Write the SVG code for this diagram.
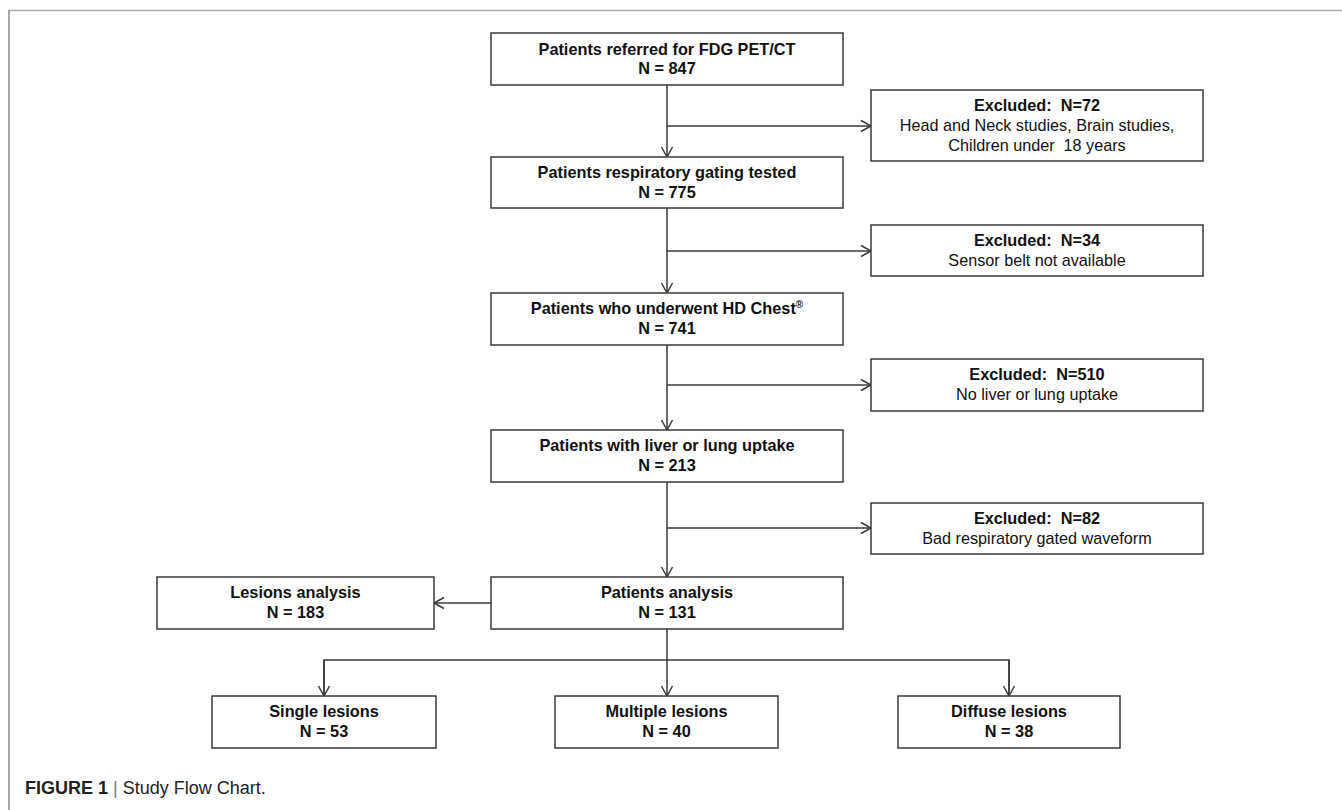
<svg xmlns="http://www.w3.org/2000/svg" width="1342" height="810" viewBox="0 0 1342 810">
<defs>
<style>
.box{fill:#fff;stroke:#3a3a3a;stroke-width:1.5}
.b{font-family:"Liberation Sans",Arial,sans-serif;font-size:16.3px;font-weight:bold;fill:#111;text-anchor:middle}
.r{font-family:"Liberation Sans",Arial,sans-serif;font-size:16.2px;fill:#111;text-anchor:middle}
.ln{fill:none;stroke:#3a3a3a;stroke-width:1.5}
.cap{font-family:"Liberation Sans",Arial,sans-serif;font-size:18px;fill:#222}
</style>
<marker id="arr" markerUnits="userSpaceOnUse" markerWidth="14" markerHeight="14" viewBox="0 0 14 14" refX="12" refY="7" orient="auto">
<path d="M2,1.5 L12,7 L2,12.5" fill="none" stroke="#3a3a3a" stroke-width="1.5"/>
</marker>
</defs>
<rect width="1342" height="810" fill="#fff"/>
<g id="frame">
<line x1="9" y1="10.5" x2="1342" y2="10.5" stroke="#aaa" stroke-width="1.5"/>
<line x1="9" y1="10" x2="9" y2="810" stroke="#888" stroke-width="1.5"/>
</g>
<g id="connectors">
<line class="ln" x1="667" y1="85" x2="667" y2="157" marker-end="url(#arr)"/>
<line class="ln" x1="667" y1="126" x2="871" y2="126" marker-end="url(#arr)"/>
<line class="ln" x1="667" y1="208" x2="667" y2="293" marker-end="url(#arr)"/>
<line class="ln" x1="667" y1="251" x2="871" y2="251" marker-end="url(#arr)"/>
<line class="ln" x1="667" y1="345" x2="667" y2="430" marker-end="url(#arr)"/>
<line class="ln" x1="667" y1="385" x2="871" y2="385" marker-end="url(#arr)"/>
<line class="ln" x1="667" y1="482" x2="667" y2="577" marker-end="url(#arr)"/>
<line class="ln" x1="667" y1="528" x2="871" y2="528" marker-end="url(#arr)"/>
<line class="ln" x1="491" y1="603" x2="434" y2="603" marker-end="url(#arr)"/>
<line class="ln" x1="667" y1="629" x2="667" y2="696" marker-end="url(#arr)"/>
<polyline class="ln" points="324,696 324,660 1009,660 1009,696"/>
<line class="ln" x1="324" y1="660" x2="324" y2="696" marker-end="url(#arr)"/>
<line class="ln" x1="1009" y1="660" x2="1009" y2="696" marker-end="url(#arr)"/>
</g>
<g id="n1">
<rect class="box" x="491" y="33" width="352" height="52"/>
<text class="b" x="667" y="54.5">Patients referred for FDG PET/CT</text>
<text class="b" x="667" y="74">N = 847</text>
</g>
<g id="x1">
<rect class="box" x="871" y="90" width="332" height="71"/>
<text class="b" x="1037" y="111" xml:space="preserve">Excluded:  N=72</text>
<text class="r" x="1037" y="131">Head and Neck studies, Brain studies,</text>
<text class="r" x="1037" y="150.5" xml:space="preserve">Children under  18 years</text>
</g>
<g id="n2">
<rect class="box" x="491" y="157" width="352" height="51"/>
<text class="b" x="667" y="178">Patients respiratory gating tested</text>
<text class="b" x="667" y="197.5">N = 775</text>
</g>
<g id="x2">
<rect class="box" x="871" y="225" width="332" height="51"/>
<text class="b" x="1037" y="246" xml:space="preserve">Excluded:  N=34</text>
<text class="r" x="1037" y="265.5">Sensor belt not available</text>
</g>
<g id="n3">
<rect class="box" x="491" y="293" width="352" height="52"/>
<text class="b" x="667" y="314">Patients who underwent HD Chest<tspan font-size="10" dy="-6">®</tspan></text>
<text class="b" x="667" y="334">N = 741</text>
</g>
<g id="x3">
<rect class="box" x="871" y="359" width="332" height="52"/>
<text class="b" x="1037" y="380" xml:space="preserve">Excluded:  N=510</text>
<text class="r" x="1037" y="400">No liver or lung uptake</text>
</g>
<g id="n4">
<rect class="box" x="491" y="430" width="352" height="52"/>
<text class="b" x="667" y="451">Patients with liver or lung uptake</text>
<text class="b" x="667" y="471">N = 213</text>
</g>
<g id="x4">
<rect class="box" x="871" y="503" width="332" height="51"/>
<text class="b" x="1037" y="524" xml:space="preserve">Excluded:  N=82</text>
<text class="r" x="1037" y="543.5">Bad respiratory gated waveform</text>
</g>
<g id="n5">
<rect class="box" x="491" y="577" width="352" height="52"/>
<text class="b" x="667" y="598">Patients analysis</text>
<text class="b" x="667" y="618">N = 131</text>
</g>
<g id="n6">
<rect class="box" x="157" y="577" width="277" height="52"/>
<text class="b" x="295.5" y="598">Lesions analysis</text>
<text class="b" x="295.5" y="618">N = 183</text>
</g>
<g id="n7">
<rect class="box" x="212" y="696" width="224" height="52"/>
<text class="b" x="324" y="717">Single lesions</text>
<text class="b" x="324" y="737">N = 53</text>
</g>
<g id="n8">
<rect class="box" x="555" y="696" width="223" height="52"/>
<text class="b" x="666.5" y="717">Multiple lesions</text>
<text class="b" x="666.5" y="737">N = 40</text>
</g>
<g id="n9">
<rect class="box" x="898" y="696" width="222" height="52"/>
<text class="b" x="1009" y="717">Diffuse lesions</text>
<text class="b" x="1009" y="737">N = 38</text>
</g>
<g id="caption">
<text class="cap" x="25" y="794"><tspan font-weight="bold">FIGURE 1</tspan><tspan fill="#777"> | </tspan>Study Flow Chart.</text>
</g>
</svg>
